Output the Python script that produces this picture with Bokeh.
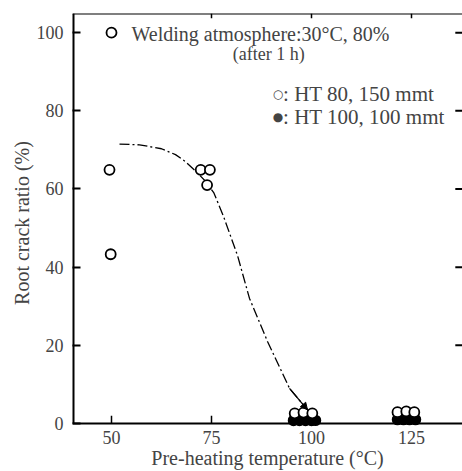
from bokeh.plotting import figure
from bokeh.models import Range1d, Span, Label, Arrow, NormalHead, FixedTicker
from bokeh.embed import file_html
from bokeh.resources import INLINE

# ---- data ----
ht80_x = [50, 49.5, 49.8, 72.3, 74.6, 73.9, 95.8, 98.0, 100.2, 121.5, 123.7, 125.7]
ht80_y = [100, 64.9, 43.3, 64.9, 64.9, 61.0, 2.6, 2.8, 2.6, 2.9, 3.1, 2.9]
ht100_x = [95.5, 97.0, 98.5, 100.0, 101.0, 121.5, 123.0, 124.5, 126.0]
ht100_y = [0.8, 0.8, 0.8, 0.8, 0.8, 1.0, 1.0, 1.0, 1.0]
curve_x = [52, 57, 62.5, 66, 68.5, 71, 73.5, 75.6, 78, 81.5, 84.5, 89, 94.5, 99]
curve_y = [71.5, 71.3, 70.3, 68.8, 67, 64.6, 62, 59, 53, 43, 32, 21, 9, 3.5]
x_ticks = [50, 75, 100, 125]
y_ticks = [0, 20, 40, 60, 80, 100]
series_labels = [": HT 80, 150 mmt", ": HT 100, 100 mmt"]
series_symbols = ["\u25cb", "\u25cf"]

FONT = "Liberation Serif"

p = figure(width=462, height=471, output_backend="svg", toolbar_location=None,
           x_range=Range1d(40.25, 137.75), y_range=Range1d(-2.3, 104.9),
           min_border_left=72, min_border_top=13, min_border_right=0, min_border_bottom=30)
p.outline_line_color = None
p.grid.visible = False
p.background_fill_color = "white"

x0, x1 = p.x_range.start, p.x_range.end
y1 = p.y_range.end

# left axis (line drawn from y=0 upward instead)
ya = p.yaxis[0]
ya.ticker = FixedTicker(ticks=y_ticks)
ya.major_tick_in = 8
ya.major_tick_out = 0
ya.minor_tick_line_color = None
ya.axis_line_color = None
ya.major_label_standoff = 9
ya.major_tick_line_width = 2
ya.major_label_text_font = FONT
ya.major_label_text_font_size = "18px"
ya.axis_label = "Root crack ratio (%)"
ya.axis_label_text_font = FONT
ya.axis_label_text_font_size = "20px"
ya.axis_label_text_font_style = "normal"
ya.axis_label_standoff = 1

# bottom axis (axis line drawn at y=0 instead)
xa = p.xaxis[0]
xa.ticker = FixedTicker(ticks=x_ticks)
xa.major_tick_in = 0
xa.major_tick_out = 0
xa.minor_tick_line_color = None
xa.axis_line_color = None
xa.major_label_standoff = -2
xa.major_label_text_font = FONT
xa.major_label_text_font_size = "18px"
xa.axis_label = "Pre-heating temperature (\u00b0C)"
xa.axis_label_text_font = FONT
xa.axis_label_text_font_size = "20px"
xa.axis_label_text_font_style = "normal"
xa.axis_label_standoff = 0

# frame lines and inner ticks
p.segment(x0=[x0], y0=[0], x1=[x0], y1=[y1], line_color="black", line_width=4)
p.add_layout(Span(location=0, dimension="width", line_color="black", line_width=2))
p.add_layout(Span(location=y1, dimension="width", line_color="black", line_width=2))
p.segment(x0=x_ticks, y0=[0] * len(x_ticks), x1=x_ticks, y1=[2] * len(x_ticks),
          line_color="black", line_width=1.5)
p.segment(x0=x_ticks[1:], y0=[y1] * 3, x1=x_ticks[1:], y1=[y1 - 1.2] * 3,
          line_color="black", line_width=1.5)
p.segment(x0=[x1 - 1.8] * 5, y0=y_ticks[1:], x1=[x1] * 5, y1=y_ticks[1:],
          line_color="black", line_width=2)

# curve
p.line(curve_x, curve_y, line_color="black", line_width=1.3, line_dash="10 3 2 3")
p.add_layout(Arrow(end=NormalHead(size=7, fill_color="black", line_color="black"),
                   x_start=curve_x[-2], y_start=curve_y[-2],
                   x_end=curve_x[-1], y_end=curve_y[-1],
                   line_color="black", line_width=1.3))

p.scatter(ht100_x, ht100_y, marker="circle", size=10,
          fill_color="black", line_color="black", line_width=1.5)
p.scatter(ht80_x, ht80_y, marker="circle", size=10,
          fill_color="white", line_color="black", line_width=1.8)

p.add_layout(Label(x=55.0, y=99.7, text="Welding atmosphere:30\u00b0C, 80%",
                   text_font=FONT, text_font_size="20px", text_baseline="middle"))
p.add_layout(Label(x=80.3, y=94.6, text="(after 1 h)",
                   text_font=FONT, text_font_size="18px", text_baseline="middle"))

for sym, lab, yy in zip(series_symbols, series_labels, [84.4, 78.5]):
    p.add_layout(Label(x=91.6, y=yy, text=sym, text_font="DejaVu Sans",
                       text_font_size="12px", text_align="center", text_baseline="middle"))
    p.add_layout(Label(x=92.9, y=yy, text=lab, text_font=FONT,
                       text_font_size="21px", text_baseline="middle"))

open("out.html", "w").write(file_html(p, INLINE))
